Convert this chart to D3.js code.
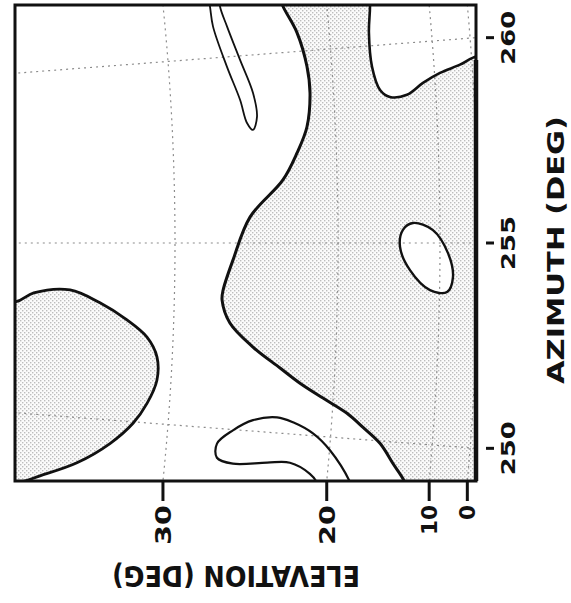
<!DOCTYPE html>
<html>
<head>
<meta charset="utf-8">
<script src="https://cdn.jsdelivr.net/npm/d3@7"></script>
<style>
  body { margin: 0; background: #fff; }
  text { font-family: "DejaVu Sans", sans-serif; font-weight: bold; fill: #111; }
</style>
</head>
<body>
<div id="chart"></div>
<script>
// contours, as [azimuth, elevation] in degrees
const lobe = [[253.3, 40], [253.26, 37.0], [253.54, 36.2], [253.65, 34.6], [253.3, 33.27], [252.84, 32.06],
  [252.38, 31.15], [251.84, 30.67], [251.2, 30.62], [250.54, 30.99], [249.96, 31.54], [249.34, 32.48],
  [248.71, 33.85], [248.23, 35.41], [247.95, 36.39], [247.5, 40]];

const sCurve = [[261.6, 22.9], [261.21, 22.68], [260.49, 21.97], [259.59, 21.52], [258.9, 21.44], [258.02, 21.74],
  [257.35, 22.42], [256.66, 23.33], [255.69, 25.39], [254.54, 26.44], [253.73, 27.02], [253.46, 27.07],
  [252.85, 26.55], [252.23, 25.08], [251.71, 23.36], [251.34, 22.09], [250.99, 20.63], [250.64, 18.56],
  [250.31, 16.89], [249.94, 15.12], [249.46, 13.69], [249.01, 12.35], [248.7, 12.0]];

const topRight = [[261.8, 15.7], [261.05, 15.77], [260.34, 16.12], [259.47, 16.07], [258.87, 15.43], [258.68, 14.5],
  [258.71, 12.82], [258.98, 11.19], [259.2, 8.55], [259.37, 3.16], [259.52, -0.4], [259.6, -6]];

const smallLoop = [[255.5, 12.64], [255.32, 10.69], [254.75, 7.89], [254.16, 6.53], [253.79, 8.03],
  [253.83, 10.94], [254.32, 12.93], [254.9, 13.92], [255.33, 13.63]];

const narrowLoop = [[261.8, 27.2], [261.4, 27.14], [260.85, 27.07], [259.74, 26.42], [258.83, 25.75], [258.2, 25.4],
  [258.01, 25.06], [258.35, 24.77], [258.99, 24.93], [259.9, 25.59], [260.81, 26.21], [261.37, 26.53], [261.8, 26.5]];

const hook = [[248.6, 17.2], [248.9, 17.73], [249.66, 19.95], [250.06, 21.09], [250.31, 22.36], [250.41, 23.36],
  [250.29, 24.82], [249.98, 26.0], [249.59, 26.91], [249.21, 26.84], [249.09, 25.83], [249.2, 23.75],
  [249.25, 22.35], [249.01, 21.07], [248.8, 20.59], [248.5, 20.4]];

const azTicks = [250, 255, 260];
const elTicks = [0, 10, 20, 30];

const width = 571, height = 603;
const box = { left: 15, top: 5, right: 476, bottom: 481 };

// azimuthal projection, zenith far off to the left
const cx = -2182, cy = 243;
const azAngle = d3.scaleLinear().domain([255, 260]).range([0, 0.0771]);
const radius = d3.scaleLinear().domain([0, 10, 20, 30, 40]).range([2660, 2622, 2520, 2357, 2130]);

function proj(d) {
  const t = azAngle(d[0]), r = radius(d[1]);
  return [cx + r * Math.cos(t), cy - r * Math.sin(t)];
}

const line = d3.line().x(d => proj(d)[0]).y(d => proj(d)[1]).curve(d3.curveCatmullRom.alpha(0.5));
const closedLine = d3.line().x(d => proj(d)[0]).y(d => proj(d)[1]).curve(d3.curveCatmullRomClosed.alpha(0.5));
const straight = d3.line().x(d => proj(d)[0]).y(d => proj(d)[1]);

const svg = d3.select("#chart").append("svg").attr("width", width).attr("height", height);

const defs = svg.append("defs");
const pat = defs.append("pattern").attr("id", "stipple").attr("patternUnits", "userSpaceOnUse")
  .attr("width", 4).attr("height", 4);
pat.append("rect").attr("width", 4).attr("height", 4).attr("fill", "#fbfbfb");
pat.append("rect").attr("x", 0).attr("y", 0).attr("width", 1.4).attr("height", 1.4).attr("fill", "#bdbdbd");
pat.append("rect").attr("x", 2).attr("y", 2).attr("width", 1.4).attr("height", 1.4).attr("fill", "#bdbdbd");

defs.append("clipPath").attr("id", "plotclip").append("rect")
  .attr("x", box.left).attr("y", box.top)
  .attr("width", box.right - box.left).attr("height", box.bottom - box.top);

const plot = svg.append("g").attr("clip-path", "url(#plotclip)");

// shaded area right of the S contour
const pt = d => proj(d).join(",");
plot.append("path")
  .attr("d", line(sCurve) + "L" + pt([248.5, -6]) + "L" + pt([262, -6]) + "L" + pt([262, 23]) + "Z")
  .attr("fill", "url(#stipple)");
plot.append("path")
  .attr("d", line(topRight) + "L" + pt([262, -6]) + "Z")
  .attr("fill", "#fff");
plot.append("path").attr("d", closedLine(smallLoop)).attr("fill", "#fff");
plot.append("path").attr("d", closedLine(lobe)).attr("fill", "url(#stipple)");

// grid
const grid = plot.append("g").attr("fill", "none").attr("stroke", "#8c8c8c")
  .attr("stroke-width", 1.2).attr("stroke-dasharray", "2,4");
azTicks.forEach(az => {
  grid.append("path").attr("d", straight([[az, -6], [az, 41]]));
});
elTicks.forEach(el => {
  grid.append("path").attr("d", line(d3.range(246, 264, 0.5).map(az => [az, el])));
});

// contours
const cont = plot.append("g").attr("fill", "none").attr("stroke", "#111")
  .attr("stroke-linejoin", "round").attr("stroke-linecap", "round");
cont.append("path").attr("d", line(sCurve)).attr("stroke-width", 3);
cont.append("path").attr("d", line(topRight)).attr("stroke-width", 2.6);
cont.append("path").attr("d", closedLine(lobe)).attr("stroke-width", 2.8);
cont.append("path").attr("d", closedLine(smallLoop)).attr("stroke-width", 2.4);
cont.append("path").attr("d", line(narrowLoop)).attr("stroke-width", 1.8);
cont.append("path").attr("d", line(hook)).attr("stroke-width", 2.2);

// frame
svg.append("rect").attr("x", box.left).attr("y", box.top)
  .attr("width", box.right - box.left).attr("height", box.bottom - box.top)
  .attr("fill", "none").attr("stroke", "#111").attr("stroke-width", 3);
svg.append("line").attr("x1", box.right).attr("x2", box.right)
  .attr("y1", 60).attr("y2", box.bottom).attr("stroke", "#111").attr("stroke-width", 4.5);

// elevation ticks along the bottom edge
const elX = el => cx + Math.sqrt(radius(el) ** 2 - (box.bottom - cy) ** 2);
const elLen = { 0: 15, 10: 30, 20: 40, 30: 40 };
elTicks.forEach(el => {
  const x = elX(el);
  svg.append("line").attr("x1", x).attr("x2", x).attr("y1", box.bottom).attr("y2", 501)
    .attr("stroke", "#111").attr("stroke-width", 3);
  svg.append("text").attr("transform", `translate(${x + 8},505) rotate(-90)`)
    .attr("text-anchor", "end").attr("font-size", 22)
    .attr("textLength", elLen[el]).attr("lengthAdjust", "spacingAndGlyphs")
    .text(el);
});

// azimuth ticks along the right edge
const azY = az => cy - (box.right - cx) * Math.tan(azAngle(az));
azTicks.forEach(az => {
  const y = azY(az);
  svg.append("line").attr("x1", 486).attr("x2", 494).attr("y1", y).attr("y2", y)
    .attr("stroke", "#111").attr("stroke-width", 3);
  svg.append("text").attr("transform", `translate(515,${y}) rotate(-90)`)
    .attr("text-anchor", "middle").attr("font-size", 19)
    .attr("textLength", 54).attr("lengthAdjust", "spacingAndGlyphs")
    .text(az);
});

// axis titles
svg.append("text").attr("transform", "translate(564,250) rotate(-90)")
  .attr("text-anchor", "middle").attr("font-size", 23)
  .attr("textLength", 268).attr("lengthAdjust", "spacingAndGlyphs")
  .text("AZIMUTH (DEG)");
svg.append("text").attr("transform", "translate(236,566) rotate(180)")
  .attr("text-anchor", "middle").attr("font-size", 28)
  .attr("textLength", 248).attr("lengthAdjust", "spacingAndGlyphs")
  .text("ELEVATION (DEG)");
</script>
</body>
</html>
